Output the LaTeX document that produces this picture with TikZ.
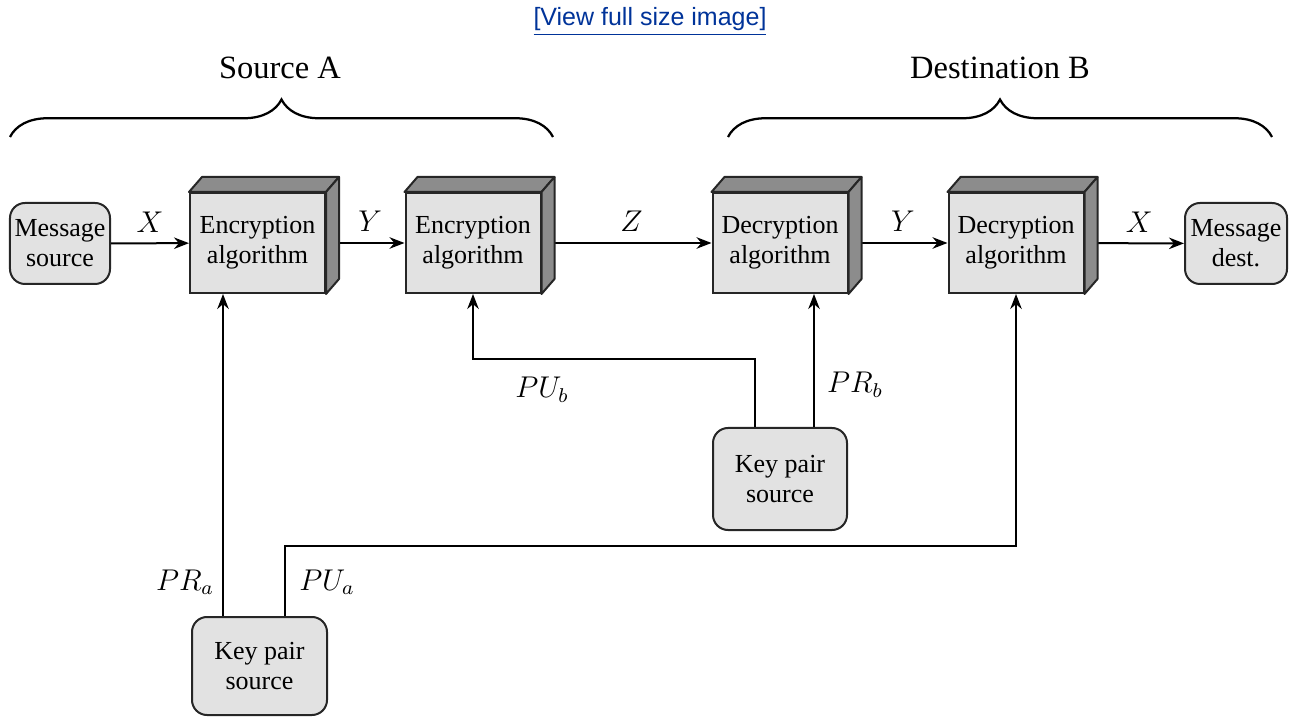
\documentclass[tikz,border=0pt]{standalone}
\usepackage{fontspec}
\setmainfont{Liberation Serif}
\newfontfamily\linkfont{Liberation Sans}
\usepackage{tikz}
\usetikzlibrary{positioning}
\usetikzlibrary{arrows.meta}
\usetikzlibrary{decorations.pathreplacing}
\definecolor{linkblue}{RGB}{0,51,153}
\definecolor{frontgray}{RGB}{226,226,226}
\definecolor{facegray}{RGB}{140,140,140}
\tikzset{
    algbox/.style={
        draw=black!85,
        line width=0.8pt,
        fill=frontgray,
        minimum width=54pt,
        minimum height=40pt,
        inner sep=1pt,
        align=center,
        font=\fontsize{10.4}{12}\selectfont
    },
    % rounded boxes for sources and destinations
    srcbox/.style={
        algbox,
        rounded corners=6pt
    },
    flowarrow/.style={
        line width=0.8pt,
        black,
        -{Stealth[length=6pt, width=4.6pt]}
    },
    keyline/.style={
        line width=0.8pt,
        black
    },
    boxface/.style={
        draw=black!85,
        line width=0.8pt,
        fill=facegray,
        line join=round
    },
    mathlabel/.style={
        font=\fontsize{11.5}{14}\selectfont,
        inner sep=1pt
    },
    bracelabel/.style={
        font=\fontsize{13}{15}\selectfont
    }
}

\begin{document}
\begin{tikzpicture}[x=0.4pt,y=-0.4pt]
	\useasboundingbox (0,0) rectangle (1291,717);
	
	% link
	\node[font=\linkfont\fontsize{10}{12}\selectfont, text=linkblue] (link) at (650,22) {\underline{[View full size image]}};
	
	% braces
	\draw[line width=0.9pt, decorate, decoration={brace, amplitude=15pt}] (10,137) -- (553,137);
	\draw[line width=0.9pt, decorate, decoration={brace, amplitude=15pt}] (728,137) -- (1272,137);
	\node[bracelabel] (srcA) at (280,68) {Source A};
	\node[bracelabel] (dstB) at (1000,68) {Destination B};
	
	% main boxes
	\node[srcbox, minimum width=40pt, minimum height=32.4pt] (msrc) at (60,243.5) {Message\\source};
	\node[algbox] (encA) at (257.5,243) {Encryption\\algorithm};
	\node[algbox] (encB) at (473,243) {Encryption\\algorithm};
	\node[algbox] (decA) at (780,243) {Decryption\\algorithm};
	\node[algbox] (decB) at (1016,243) {Decryption\\algorithm};
	\node[srcbox, minimum width=40.8pt, minimum height=32.4pt] (mdst) at (1236,243.5) {Message\\dest.};
	
	% key pair sources
	\node[srcbox, minimum height=39.2pt] (keyA) at (259.5,666) {Key pair\\source};
	\node[srcbox, minimum width=53.6pt, minimum height=40.8pt] (keyB) at (780,479) {Key pair\\source};
	
	% message flow
	\draw[flowarrow] (msrc) -- node[mathlabel, above=3pt] (lx1) {$X$} (encA);
	\draw[flowarrow] (encA) -- node[mathlabel, above=3pt, xshift=2pt] (ly1) {$Y$} (encB);
	\draw[flowarrow] (encB) -- node[mathlabel, above=3pt, xshift=2pt] (lz) {$Z$} (decA);
	\draw[flowarrow] (decA) -- node[mathlabel, above=3pt, xshift=2pt] (ly2) {$Y$} (decB);
	\draw[flowarrow] (decB) -- node[mathlabel, above=3pt, xshift=2pt] (lx2) {$X$} (mdst);
	
	% keys
	\coordinate (pra) at ([xshift=-14.6pt]keyA.north);
	\coordinate (pua) at ([xshift=10.2pt]keyA.north);
	\coordinate (pub) at ([xshift=-10pt]keyB.north);
	\coordinate (prb) at ([xshift=13.6pt]keyB.north);
	\draw[flowarrow] (pra) -- (pra |- encA.south);
	\draw[flowarrow] (pua) -- ++(0,28pt) -| (decB.south);
	\draw[flowarrow] (pub) -- ++(0,27.2pt) -| (encB.south);
	\draw[flowarrow] (prb) -- (prb |- decA.south);
	
	% 3d faces
	\foreach \b in {encA,encB,decA,decB}{
		\filldraw[boxface] (\b.north west) -- ([shift={(5.2pt,6pt)}]\b.north west)
			-- ([shift={(5.2pt,6pt)}]\b.north east) -- (\b.north east) -- cycle;
		\filldraw[boxface] (\b.north east) -- ([shift={(5.2pt,6pt)}]\b.north east)
			-- ([shift={(5.2pt,6pt)}]\b.south east) -- (\b.south east) -- cycle;
	}
	
	% key labels
	\node[mathlabel] (lpra) at (185,582) {$PR_a$};
	\node[mathlabel] (lpua) at (327,582) {$PU_a$};
	\node[mathlabel] (lpub) at (542,390) {$PU_b$};
	\node[mathlabel] (lprb) at (855,385) {$PR_b$};
\end{tikzpicture}
\end{document}
